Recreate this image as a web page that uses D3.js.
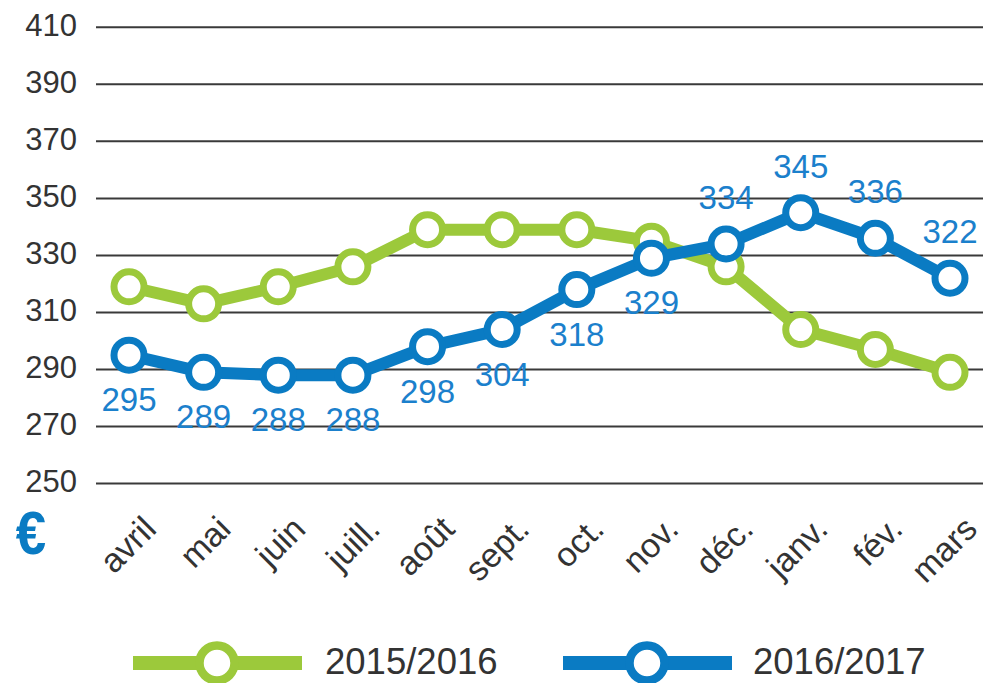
<!DOCTYPE html>
<html>
<head>
<meta charset="utf-8">
<script src="https://cdn.jsdelivr.net/npm/d3@7"></script>
<style>
body{margin:0;background:#fff;}
svg{display:block;font-family:"Liberation Sans",Arial,sans-serif;}
</style>
</head>
<body>
<svg></svg>
<script>
var months=["avril","mai","juin","juill.","août","sept.","oct.","nov.","déc.","janv.","fév.","mars"];
var values2015=[319,313,319,326,339,339,339,335,326,304,297,289];
var values2016=[295,289,288,288,298,304,318,329,334,345,336,322];
var labelAbove2016=[false,false,false,false,false,false,false,false,true,true,true,true];
var yTicks=[250,270,290,310,330,350,370,390,410];
var seriesNames=["2015/2016","2016/2017"];

var width=986;
var height=683;
var green="#9cc93b";
var blue="#0a7bc3";
var labelBlue="#1b80cc";
var textColor="#333333";

var svg=d3.select("svg")
.attr("width",width)
.attr("height",height);

var x=d3.scalePoint()
.domain(months)
.range([129,950]);

var y=d3.scaleLinear()
.domain([250,410])
.range([483.5,27.3]);

var drawGrid=function(){
  svg.selectAll("line.grid")
  .data(yTicks)
  .enter()
  .append("line")
  .attr("class","grid")
  .attr("x1",96)
  .attr("x2",983)
  .attr("y1",function(d){return y(d);})
  .attr("y2",function(d){return y(d);})
  .attr("stroke","#3a3a3a")
  .attr("stroke-width",2);

  svg.selectAll("text.ytick")
  .data(yTicks)
  .enter()
  .append("text")
  .attr("class","ytick")
  .text(function(d){return d;})
  .attr("x",77)
  .attr("y",function(d){return y(d)-2;})
  .attr("dy","0.35em")
  .attr("text-anchor","end")
  .attr("font-size",31)
  .attr("fill",textColor);
}

var drawXLabels=function(){
  svg.selectAll("text.month")
  .data(months)
  .enter()
  .append("text")
  .attr("class","month")
  .text(function(d){return d;})
  .attr("text-anchor","end")
  .attr("font-size",34)
  .attr("fill",textColor)
  .attr("transform",function(d){
    return "translate("+(x(d)+29)+",531) rotate(-45)";});

  // euro sign under the y axis
  svg.append("text")
  .text("€")
  .attr("x",31)
  .attr("y",554)
  .attr("text-anchor","middle")
  .attr("font-size",62)
  .attr("font-weight","bold")
  .attr("fill",blue)
  .attr("transform","translate(31,0) scale(0.88,1) translate(-31,0)");
}

var drawSeries=function(values,color,lineWidth,cls){
  var line=d3.line()
  .x(function(d,i){return x(months[i]);})
  .y(function(d){return y(d);});

  svg.append("path")
  .datum(values)
  .attr("d",line)
  .attr("fill","none")
  .attr("stroke",color)
  .attr("stroke-width",lineWidth)
  .attr("stroke-linejoin","round");

  svg.selectAll("circle."+cls)
  .data(values)
  .enter()
  .append("circle")
  .attr("class",cls)
  .attr("cx",function(d,i){return x(months[i]);})
  .attr("cy",function(d){return y(d);})
  .attr("r",15)
  .attr("fill","#fff")
  .attr("stroke",color)
  .attr("stroke-width",7);
}

var drawValueLabels=function(){
  svg.selectAll("text.val")
  .data(values2016)
  .enter()
  .append("text")
  .attr("class","val")
  .text(function(d){return d;})
  .attr("x",function(d,i){return x(months[i]);})
  .attr("y",function(d,i){
    return labelAbove2016[i] ? y(d)-35 : y(d)+56;})
  .attr("text-anchor","middle")
  .attr("font-size",33)
  .attr("fill",labelBlue);
}

var drawLegend=function(){
  var items=[
    {name:seriesNames[0],color:green,x1:133,x2:302,cx:217,tx:325},
    {name:seriesNames[1],color:blue,x1:563,x2:732,cx:647,tx:753}
  ];
  var g=svg.selectAll("g.legend")
  .data(items)
  .enter()
  .append("g")
  .attr("class","legend");

  g.append("line")
  .attr("x1",function(d){return d.x1;})
  .attr("x2",function(d){return d.x2;})
  .attr("y1",663)
  .attr("y2",663)
  .attr("stroke",function(d){return d.color;})
  .attr("stroke-width",14);

  g.append("circle")
  .attr("cx",function(d){return d.cx;})
  .attr("cy",663)
  .attr("r",17.5)
  .attr("fill","#fff")
  .attr("stroke",function(d){return d.color;})
  .attr("stroke-width",8.5);

  g.append("text")
  .text(function(d){return d.name;})
  .attr("x",function(d){return d.tx;})
  .attr("y",674)
  .attr("font-size",36.5)
  .attr("fill",textColor);
}

drawGrid();
drawXLabels();
drawSeries(values2015,green,12,"s2015");
drawSeries(values2016,blue,12,"s2016");
drawValueLabels();
drawLegend();
</script>
</body>
</html>
